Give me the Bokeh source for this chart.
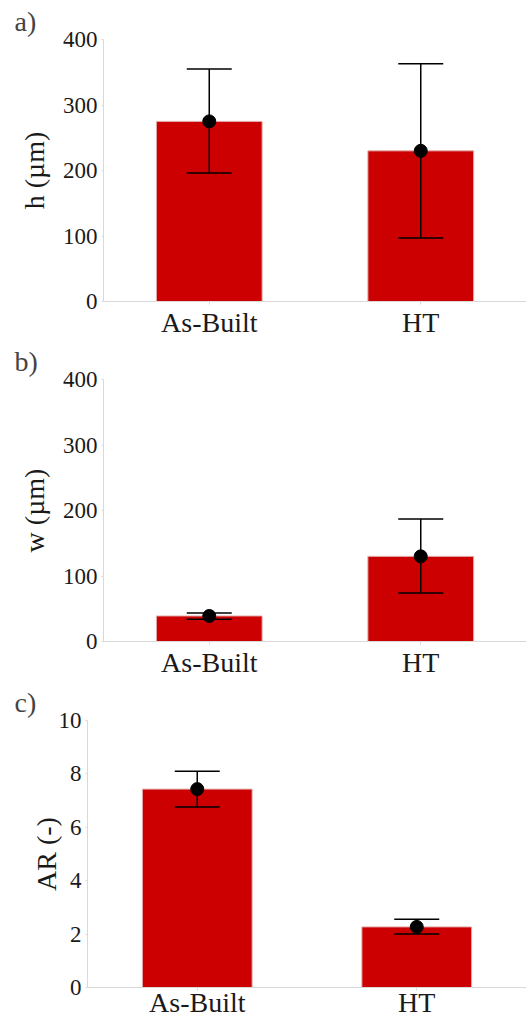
from bokeh.plotting import figure
from bokeh.models import (ColumnDataSource, FactorRange, Range1d, FixedTicker,
                          Whisker, TeeHead)
from bokeh.embed import file_html
from bokeh.resources import INLINE

categories = ["As-Built", "HT"]

h_mean = [275, 230]
h_upper = [355, 363]
h_lower = [196, 97]

w_mean = [39, 130]
w_upper = [43.5, 187]
w_lower = [34, 74]

ar_mean = [7.43, 2.27]
ar_upper = [8.1, 2.56]
ar_lower = [6.76, 2.0]

ticks_hw = [0, 100, 200, 300, 400]
ticks_ar = [0, 2, 4, 6, 8, 10]

FONT = "Liberation Serif"
RED = "#cc0000"
GRID = "#d9d9d9"


def panel(letter, ylabel, mean, upper, lower, ticks, height, left, top, bottom,
          label_standoff, xlabel_standoff):
    src = ColumnDataSource(dict(x=categories, mean=mean, upper=upper, lower=lower))
    p = figure(x_range=FactorRange(factors=categories, range_padding=0),
               y_range=Range1d(ticks[0], ticks[-1]),
               width=526, height=height, output_backend="svg",
               toolbar_location=None, title=letter,
               min_border_left=left, min_border_right=0,
               min_border_top=top, min_border_bottom=bottom)
    p.title.text_font = FONT
    p.title.text_font_size = "28px"
    p.title.text_font_style = "normal"
    p.title.align = "left"
    p.title.offset = 14 - left
    p.title.standoff = 5
    p.outline_line_color = None
    p.xgrid.grid_line_color = None
    p.ygrid.ticker = FixedTicker(ticks=[ticks[-1]])
    p.ygrid.grid_line_color = GRID

    p.vbar(x="x", top="mean", width=0.5, source=src, fill_color=RED,
           line_color="#e3b0b0", line_width=1)
    wh = Whisker(source=src, base="x", upper="upper", lower="lower",
                 line_color="black", line_width=1.5, level="overlay",
                 upper_head=TeeHead(size=45, line_color="black", line_width=1.5),
                 lower_head=TeeHead(size=45, line_color="black", line_width=1.5))
    p.add_layout(wh)
    p.scatter(x="x", y="mean", source=src, size=13, color="black")

    p.yaxis.ticker = FixedTicker(ticks=ticks)
    p.yaxis.axis_label = ylabel
    p.yaxis.axis_label_text_font = FONT
    p.yaxis.axis_label_text_font_size = "28px"
    p.yaxis.axis_label_text_font_style = "normal"
    p.yaxis.axis_label_text_color = "#1a1a1a"
    p.yaxis.axis_label_standoff = label_standoff
    p.yaxis.major_label_text_font = FONT
    p.yaxis.major_label_text_font_size = "23px"
    p.yaxis.major_label_text_color = "#1a1a1a"
    p.yaxis.major_tick_out = 2
    p.yaxis.major_tick_in = 0
    p.yaxis.minor_tick_line_color = None
    p.yaxis.major_label_standoff = 4

    p.xaxis.major_label_text_font = FONT
    p.xaxis.major_label_text_font_size = "28px"
    p.xaxis.major_label_text_color = "#1a1a1a"
    p.xaxis.major_tick_out = 3
    p.xaxis.major_tick_in = 0
    p.xaxis.major_label_standoff = xlabel_standoff

    for ax in (p.xaxis, p.yaxis):
        ax.axis_line_color = GRID
        ax.major_tick_line_color = GRID
    return p


pa = panel("a)", "h (µm)", h_mean, h_upper, h_lower, ticks_hw, 340, 103, 39, 38, 10, 2)
pb = panel("b)", "w (µm)", w_mean, w_upper, w_lower, ticks_hw, 340, 103, 39, 38, 10, 2)
pc = panel("c)", "AR (-)", ar_mean, ar_upper, ar_lower, ticks_ar, 340, 87, 40, 33, -6, -4)

open("out.html", "w").write(file_html([pa, pb, pc], INLINE))
